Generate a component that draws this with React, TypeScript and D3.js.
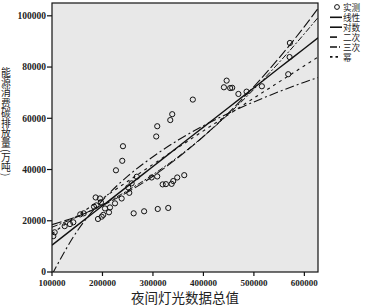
import * as d3 from 'd3';

const W = 372;
const H = 308;
const margin = { top: 3, right: 54, bottom: 36, left: 52 };

// observed points (夜间灯光数据总值, 碳排放量)
const obsX = [
  102600, 105300, 125100, 135600, 142200, 156000, 162800, 183200, 186500, 195000,
  191100, 201600, 197000, 212900, 214900, 224800, 238000, 253100, 257800, 251000,
  268000, 226700, 239200, 240600, 261800, 282500, 309500, 330300, 297400, 308500,
  319200, 325700, 337000, 340200, 348100, 362000, 306500, 308500, 334300, 338200,
  379000, 446000, 440600, 457000, 453000, 469300, 485500, 515800, 568000, 570700,
  571300, 188000, 198400, 205000,
];
const obsY = [
  14000, 15500, 17900, 18700, 19400, 22500, 22900, 25500, 29100, 28700,
  20700, 22300, 27200, 23300, 25200, 26800, 28700, 30900, 34600, 33000,
  37200, 39700, 43400, 49100, 22900, 23700, 24600, 25000, 36900, 37300,
  34200, 34300, 34400, 35500, 36900, 37800, 52900, 56900, 59300, 61600,
  67300, 74700, 72100, 71900, 71800, 69500, 70400, 72500, 77200, 83900,
  89400, 26000, 21600, 24800,
];

// fitted curves
const fitX = [100000, 150000, 200000, 250000, 300000, 350000, 400000, 450000, 500000, 550000, 600000, 627000];
const linearY = [10500, 18200, 25850, 33500, 41200, 48900, 56550, 64200, 71900, 79600, 87250, 91400];
const logY = [-1000, 16000, 28000, 37400, 45000, 51500, 57100, 62000, 66400, 70400, 74100, 75900];
const quadY = [18500, 21700, 26000, 31200, 37400, 44700, 52900, 62100, 72400, 83600, 95800, 102900];
const cubicY = [17500, 21500, 26300, 31800, 38000, 45000, 52900, 61700, 71300, 81800, 93000, 99300];
const powerY = [15000, 21900, 28700, 35400, 42000, 48600, 55100, 61500, 67900, 74200, 80500, 83900];

const xTicks = [100000, 200000, 300000, 400000, 500000, 600000];
const yTicks = [0, 20000, 40000, 60000, 80000, 100000];

const legendLabels = ['实测', '线性', '对数', '二次', '三次', '幂'];
const yTitle = '能源消费碳排放量(万吨)';

const series = [
  { name: '线性', ys: linearY, dash: null, w: 1.4, legDash: null },
  { name: '对数', ys: logY, dash: '9,3,2,3', w: 1.1, legDash: null },
  { name: '二次', ys: quadY, dash: '10,3', w: 1.1, legDash: '7,6' },
  { name: '三次', ys: cubicY, dash: '6,2,2,2', w: 1, legDash: '7,2,2,2' },
  { name: '幂', ys: powerY, dash: '3,4', w: 1.1, legDash: '2.5,3' },
];

const serif = '"Liberation Serif", "DejaVu Serif", serif';
const cjk = '"Noto Sans CJK SC", "Noto Sans", sans-serif';

export default function App() {
  const x = d3.scaleLinear().domain([100000, 627000]).range([margin.left, W - margin.right]);
  const y = d3.scaleLinear().domain([0, 105000]).range([H - margin.bottom, margin.top]);
  const plotW = W - margin.right - margin.left;
  const plotH = H - margin.bottom - margin.top;

  const line = d3.line<number>()
    .x((d, i) => x(fitX[i]))
    .y(d => y(d))
    .curve(d3.curveMonotoneX);

  return (
    <svg width={W} height={H} style={{ position: 'absolute', left: 0, top: 0, background: '#fff' }}>
      <defs>
        <clipPath id="plot">
          <rect x={margin.left} y={margin.top} width={plotW} height={plotH} />
        </clipPath>
      </defs>
      <rect x={margin.left} y={margin.top} width={plotW} height={plotH} fill="#e8e8e8" stroke="#111" strokeWidth={1.2} />

      <g clipPath="url(#plot)">
        {obsX.map((v, i) => (
          <circle key={i} cx={x(v)} cy={y(obsY[i])} r={2.6} fill="none" stroke="#111" strokeWidth={1} />
        ))}
        {series.map(s => (
          <path key={s.name} d={line(s.ys) || ''} fill="none" stroke="#111" strokeWidth={s.w}
            strokeDasharray={s.dash || undefined} />
        ))}
      </g>

      {/* y axis */}
      {yTicks.map(t => (
        <g key={t}>
          <line x1={margin.left - 5} x2={margin.left} y1={y(t)} y2={y(t)} stroke="#111" strokeWidth={1.2} />
          <text x={margin.left - 6} y={y(t)} dy="0.35em" textAnchor="end" fontFamily={serif}
            fontWeight="bold" fontSize={9.5} fill="#222">{t}</text>
        </g>
      ))}
      {/* x axis */}
      {xTicks.map(t => (
        <g key={t}>
          <line x1={x(t)} x2={x(t)} y1={H - margin.bottom} y2={H - margin.bottom + 4} stroke="#111" strokeWidth={1.2} />
          <text x={x(t)} y={H - margin.bottom + 14} textAnchor="middle" fontFamily={serif}
            fontWeight="bold" fontSize={9} fill="#222">{t}</text>
        </g>
      ))}

      <text x={185} y={303} textAnchor="middle" fontFamily={cjk} fontSize={13.5} fill="#222">夜间灯光数据总值</text>

      <text x={6} y={122} textAnchor="middle" fontFamily={cjk} fontSize={9.8} fill="#222"
        style={{ writingMode: 'vertical-rl', letterSpacing: '0.4px' }}>{yTitle}</text>

      {/* legend */}
      <g fontFamily={cjk} fontSize={8.6} fill="#222">
        <circle cx={337} cy={7} r={2.4} fill="none" stroke="#111" strokeWidth={1} />
        <text x={343} y={7} dominantBaseline="central">{legendLabels[0]}</text>
        {series.map((s, i) => {
          const ly = 17.3 + i * 9.9;
          return (
            <g key={s.name}>
              <line x1={330} x2={s.legDash ? 340 : 342} y1={ly} y2={ly} stroke="#111" strokeWidth={1.6}
                strokeDasharray={s.legDash || undefined} />
              <text x={343} y={ly} dominantBaseline="central">{legendLabels[i + 1]}</text>
            </g>
          );
        })}
      </g>
    </svg>
  );
}
